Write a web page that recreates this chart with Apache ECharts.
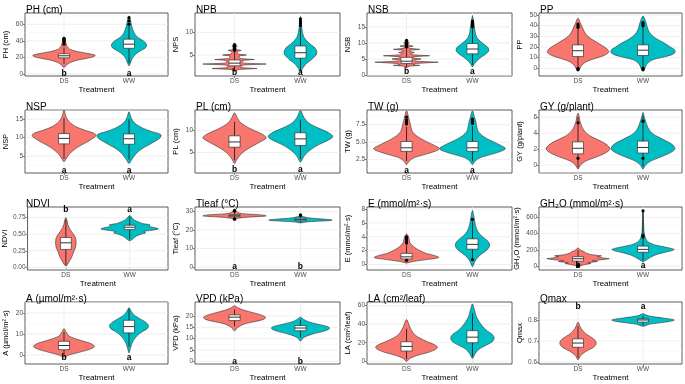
<!DOCTYPE html>
<html><head><meta charset="utf-8">
<script src="https://cdn.jsdelivr.net/npm/echarts@6/dist/echarts.min.js"></script>
<style>html,body{margin:0;padding:0;background:#fff}#c{width:685px;height:384px}</style>
</head><body><div id="c"></div>
<script>
const categories = ['DS', 'WW'];
const panelTitles = ['PH (cm)','NPB','NSB','PP','NSP','PL (cm)','TW (g)','GY (g/plant)','NDVI','Tleaf (°C)','E (mmol/m²·s)','GH₂O (mmol/m²·s)','A (µmol/m²·s)','VPD (kPa)','LA (cm²/leaf)','Qmax'];
const yTitles = ['PH (cm)','NPS','NSB','PP','NSP','PL (cm)','TW (g)','GY (g/plant)','NDVI','Tleaf (°C)','E (mmol/m²·s)','GH₂O (mmol/m²·s)','A (µmol/m²·s)','VPD (kPa)','LA (cm²/leaf)','Qmax'];
const yRanges = [[-2.4,73.6],[0.35,14.3],[-0.3,19.3],[-7.2,51.9],[0.4,17.5],[0.3,14.7],[0.6,9.6],[-1.0,6.9],[-0.04,0.91],[-1.6,32.4],[-0.8,8.3],[-49,727],[-4.3,25.2],[-1.2,26.2],[-3,64],[0.59,0.886]];
const yTicks = [[0,20,40,60],[5,10],[0,5,10,15],[0,10,20,30,40,50],[5,10,15],[5,10],[2.5,5,7.5],[0,2,4,6],[0,0.25,0.5,0.75],[0,10,20,30],[0,2,4,6,8],[0,200,400,600],[0,10,20],[0,5,10,15,20],[0,20,40,60],[0.6,0.7,0.8]];
const yTickLabels = [['0','20','40','60'],['5','10'],['0','5','10','15'],['0','10','20','30','40','50'],['5','10','15'],['5','10'],['2.5','5.0','7.5'],['0','2','4','6'],['0.00','0.25','0.50','0.75'],['0','10','20','30'],['0','2','4','6','8'],['0','200','400','600'],['0','10','20'],['0','5','10','15','20'],['0','20','40','60'],['0.6','0.7','0.8']];
const letters = [['b','a'],['b','a'],['b','a'],null,['a','a'],['b','a'],['a','a'],null,['b','a'],['a','b'],null,['b','a'],['b','a'],['a','b'],null,['b','a']];
const letterY = [0,1,1,null,1,1,1,null,0.87,0,null,0,-1.5,0,null,0.865];

// violin profiles: [y, half-width in category units]
const PH_DS = [[8,0],[11,0.04],[14,0.1],[17,0.22],[19,0.36],[21,0.46],[22.5,0.48],[24,0.42],[26,0.28],[28,0.16],[30,0.09],[33,0.05],[37,0.03],[41,0.02],[45,0]];
const PH_WW = [[10,0],[13,0.02],[17,0.04],[21,0.07],[25,0.12],[29,0.2],[32,0.26],[35,0.27],[38,0.25],[41,0.2],[44,0.14],[48,0.09],[53,0.06],[58,0.04],[64,0.025],[70,0]];
const NPB_DS = [[1.4,0],[1.8,0.06],[2,0.34],[2.2,0.1],[2.5,0.1],[2.8,0.14],[3,0.48],[3.2,0.14],[3.5,0.12],[3.8,0.12],[4,0.3],[4.2,0.09],[4.5,0.07],[4.8,0.07],[5,0.18],[5.2,0.05],[5.5,0.04],[5.8,0.04],[6,0.1],[6.2,0.03],[6.6,0.02],[7,0.04],[7.5,0]];
const NPB_WW = [[1.2,0],[2,0.03],[3,0.08],[4,0.17],[5,0.24],[5.8,0.25],[6.6,0.22],[7.4,0.15],[8.2,0.09],[9,0.05],[10,0.03],[11,0.02],[12,0.015],[13.5,0]];
const NSB_DS = [[2.3,0],[2.8,0.05],[3,0.2],[3.2,0.1],[3.6,0.14],[4,0.48],[4.3,0.14],[4.7,0.12],[5,0.22],[5.3,0.1],[5.7,0.1],[6,0.35],[6.3,0.08],[6.7,0.06],[7,0.12],[7.3,0.05],[7.7,0.05],[8,0.2],[8.3,0.04],[8.7,0.03],[9,0.1],[9.3,0.02],[10,0.04],[11,0]];
const NSB_WW = [[2.5,0],[3.5,0.03],[4.5,0.07],[5.5,0.13],[6.5,0.2],[7.5,0.25],[8.5,0.24],[9.5,0.18],[10.5,0.12],[11.5,0.07],[12.5,0.05],[13.5,0.04],[15,0.03],[16.5,0.02],[18.5,0]];
const PP_DS = [[-3,0],[0,0.03],[3,0.06],[6,0.12],[9,0.25],[12,0.4],[15,0.47],[18,0.45],[21,0.38],[24,0.3],[27,0.22],[30,0.15],[34,0.1],[38,0.07],[42,0.04],[47,0]];
const PP_WW = [[-3,0],[0,0.03],[4,0.06],[8,0.15],[11,0.35],[14,0.48],[17,0.49],[20,0.42],[24,0.32],[28,0.2],[32,0.12],[36,0.08],[40,0.06],[44,0.04],[49,0]];
const NSP_DS = [[3.5,0],[4.5,0.04],[5.5,0.08],[6.5,0.14],[7.5,0.22],[8.5,0.32],[9.5,0.42],[10.5,0.49],[11.2,0.46],[12,0.32],[13,0.18],[14,0.1],[15,0.05],[16,0.025],[17.5,0]];
const NSP_WW = [[3,0],[4,0.04],[5,0.08],[6,0.13],[7,0.2],[8,0.3],[9,0.4],[10,0.48],[10.8,0.49],[11.6,0.36],[12.5,0.22],[13.5,0.12],[14.5,0.06],[15.5,0.03],[17,0]];
const PL_DS = [[2.5,0],[3.5,0.04],[4.5,0.09],[5.5,0.17],[6.5,0.28],[7.5,0.4],[8.3,0.48],[9,0.44],[10,0.3],[11,0.17],[12,0.08],[13,0.04],[14,0]];
const PL_WW = [[2.8,0],[3.8,0.04],[4.8,0.09],[5.8,0.17],[6.8,0.28],[7.8,0.42],[8.6,0.49],[9.4,0.44],[10.4,0.3],[11.4,0.16],[12.4,0.08],[13.4,0.04],[14.6,0]];
const TW_DS = [[1.8,0],[2.3,0.04],[2.8,0.12],[3.3,0.3],[3.8,0.46],[4.1,0.5],[4.5,0.43],[5,0.32],[5.5,0.22],[6,0.14],[6.5,0.09],[7,0.07],[7.5,0.06],[8,0.045],[8.6,0.03],[9.5,0]];
const TW_WW = [[1.8,0],[2.3,0.04],[2.8,0.12],[3.3,0.3],[3.8,0.46],[4.1,0.5],[4.5,0.44],[5,0.33],[5.5,0.22],[6,0.14],[6.5,0.09],[7,0.07],[7.5,0.06],[8,0.05],[8.6,0.03],[9.5,0]];
const GY_DS = [[-0.5,0],[0,0.04],[0.5,0.12],[1,0.28],[1.5,0.42],[2,0.49],[2.5,0.45],[3,0.35],[3.5,0.22],[4,0.13],[4.5,0.08],[5,0.05],[5.5,0.03],[6,0.02],[6.5,0]];
const GY_WW = [[-0.5,0],[0,0.04],[0.5,0.12],[1,0.27],[1.5,0.41],[2,0.49],[2.5,0.46],[3,0.36],[3.5,0.24],[4,0.14],[4.5,0.09],[5,0.06],[5.5,0.04],[6,0.02],[6.6,0]];
const NDVI_DS = [[0.02,0],[0.05,0.03],[0.1,0.06],[0.15,0.09],[0.2,0.11],[0.25,0.13],[0.3,0.15],[0.35,0.16],[0.4,0.16],[0.45,0.15],[0.5,0.12],[0.55,0.08],[0.6,0.05],[0.65,0.03],[0.7,0.02],[0.75,0]];
const NDVI_WW = [[0.4,0],[0.43,0.05],[0.47,0.1],[0.5,0.18],[0.52,0.25],[0.54,0.22],[0.56,0.35],[0.58,0.45],[0.6,0.38],[0.62,0.3],[0.64,0.32],[0.66,0.2],[0.68,0.15],[0.7,0.1],[0.73,0.05],[0.78,0]];
const TLEAF_DS = [[25.8,0],[26.3,0.05],[26.8,0.15],[27.2,0.35],[27.6,0.48],[28,0.44],[28.4,0.3],[28.8,0.12],[29.3,0.06],[29.8,0.04],[30.4,0.02],[31,0]];
const TLEAF_WW = [[23.8,0],[24.3,0.08],[24.7,0.25],[25.1,0.46],[25.4,0.48],[25.8,0.38],[26.2,0.22],[26.6,0.12],[27.1,0.05],[27.6,0.02],[28.2,0]];
const E_DS = [[0.2,0],[0.4,0.08],[0.7,0.3],[1,0.49],[1.3,0.42],[1.6,0.3],[2,0.2],[2.4,0.13],[2.8,0.08],[3.2,0.05],[3.6,0.04],[4,0.03],[4.4,0]];
const E_WW = [[-0.3,0],[0.3,0.03],[0.8,0.06],[1.3,0.11],[1.8,0.18],[2.3,0.24],[2.8,0.26],[3.3,0.24],[3.8,0.18],[4.3,0.12],[4.8,0.08],[5.5,0.05],[6.2,0.035],[7,0.02],[7.8,0]];
const GH2O_DS = [[0,0],[20,0.12],[30,0.2],[40,0.15],[55,0.3],[65,0.22],[80,0.4],[90,0.48],[100,0.38],[115,0.3],[125,0.36],[140,0.2],[160,0.12],[175,0.1],[190,0.05],[210,0.02],[225,0]];
const GH2O_WW = [[50,0],[80,0.06],[110,0.12],[140,0.2],[170,0.34],[190,0.45],[205,0.48],[220,0.42],[240,0.3],[260,0.18],[290,0.09],[320,0.05],[360,0.03],[420,0.015],[500,0.01],[600,0.005],[690,0]];
const A_DS = [[-1,0],[0,0.08],[1,0.2],[2,0.32],[3,0.42],[4,0.47],[5,0.44],[6,0.36],[7,0.25],[8,0.15],[9,0.08],[10,0.05],[11,0.03],[12.5,0]];
const A_WW = [[1,0],[3,0.02],[5,0.04],[7,0.07],[9,0.12],[11,0.2],[12.5,0.28],[14,0.3],[15.5,0.26],[17,0.18],[18.5,0.1],[20,0.05],[21.5,0.02],[22.5,0]];
const VPD_DS = [[13.5,0],[15,0.05],[16.5,0.15],[17.5,0.3],[18.5,0.44],[19.5,0.47],[20.5,0.4],[21.5,0.28],[22.5,0.15],[23.5,0.06],[24.5,0]];
const VPD_WW = [[9,0],[10.5,0.05],[12,0.18],[13,0.32],[14,0.42],[14.8,0.44],[15.6,0.38],[16.5,0.25],[17.5,0.12],[18.5,0.05],[19.5,0]];
const LA_DS = [[0,0],[3,0.05],[6,0.15],[9,0.3],[12,0.42],[15,0.47],[18,0.42],[21,0.32],[25,0.2],[29,0.12],[33,0.08],[37,0.05],[41,0.03],[45,0]];
const LA_WW = [[3,0],[8,0.04],[13,0.1],[17,0.2],[21,0.3],[25,0.33],[29,0.3],[33,0.22],[38,0.15],[43,0.1],[48,0.06],[53,0.04],[58,0.02],[62,0]];
const QMAX_DS = [[0.61,0],[0.63,0.04],[0.65,0.12],[0.67,0.24],[0.69,0.28],[0.71,0.24],[0.73,0.14],[0.75,0.07],[0.77,0.03],[0.79,0]];
const QMAX_WW = [[0.77,0],[0.78,0.1],[0.79,0.35],[0.8,0.48],[0.81,0.3],[0.82,0.08],[0.83,0]];

// box stats: [lower whisker, q1, median, q3, upper whisker]
const boxDS = [[12,19.5,22,24.5,32],[1.5,2.6,3.2,3.9,5.8],[2.5,3.6,4.3,5.5,8.2],[1,11,16.5,22,38],[4.2,8.3,9.8,11.1,15.3],[3.2,6.2,7.4,8.8,12],[2.3,3.7,4.2,5.1,7.2],[-0.3,1.4,2.1,2.9,6],[0.03,0.27,0.37,0.45,0.72],[26.3,27.2,27.7,28.3,29.8],[0.35,0.8,1.1,1.6,2.9],[10,60,90,115,200],[0,2.5,4.5,6.5,11],[15.5,18,19.5,20.5,23],[2,11,16,21,35],[0.62,0.67,0.69,0.71,0.77]];
const boxWW = [[13,31,36,42,58],[1.5,4.3,5.5,7,11],[3.2,6.6,8.1,9.8,14.5],[1,12,17,22,39],[4,8.2,9.7,11,15],[3.5,6.6,8.1,9.5,12.5],[2.3,3.7,4.2,5.1,7.3],[-0.2,1.5,2.2,3.0,6.2],[0.42,0.57,0.605,0.635,0.76],[24.2,25.0,25.6,26.3,27.5],[0.5,2.2,2.9,3.7,6.2],[70,170,205,245,680],[4,10.5,13.5,16.5,22],[10.5,13.5,14.7,15.8,18.5],[5,20,26,33,52],[0.775,0.79,0.8,0.805,0.82]];
const outDS = [[36,38,40,41,42,43],[6,6.3,6.6,7,7.3],[8.7,9.2,9.7,10.3,10.8],[-1,0,38.5,40,41.5],[],[],[7.6,7.9,8.2,8.6],[5.3,0.85],[],[25.8,26.0,30.2,30.6],[3.1,3.4,3.7,4.0,0.6],[0,5],[],[],[],[]];
const outWW = [[60,64,68],[11.5,12,12.5,13],[15,15.6,16.2,16.8],[-1,0,40,41.5,43],[],[],[7.7,8.0,8.3],[5.5,0.85],[],[27.8,28.1],[6.5,0.7],[360,375,680],[],[],[],[]];

const violinSets = [[PH_DS,PH_WW],[NPB_DS,NPB_WW],[NSB_DS,NSB_WW],[PP_DS,PP_WW],[NSP_DS,NSP_WW],[PL_DS,PL_WW],[TW_DS,TW_WW],[GY_DS,GY_WW],[NDVI_DS,NDVI_WW],[TLEAF_DS,TLEAF_WW],[E_DS,E_WW],[GH2O_DS,GH2O_WW],[A_DS,A_WW],[VPD_DS,VPD_WW],[LA_DS,LA_WW],[QMAX_DS,QMAX_WW]];
const spiky = [false,true,true,false,false,false,false,false,false,false,false,true,false,false,false,false];

const colL = [25,195,367,539], colR = [168,340,512,682];
const rowT = [13,110,207,302], rowB = [76,173,270,364];
const FILL = ['#F8766D','#00BFC4'];
const FONT = '"Liberation Sans", Arial, sans-serif';

const grids = [], xAxes = [], yAxes = [], series = [], titles = [];
for (let i = 0; i < 16; i++) {
  const r = Math.floor(i / 4), c = i % 4;
  grids.push({left: colL[c], top: rowT[r], width: colR[c]-colL[c], height: rowB[r]-rowT[r], show: true, borderColor: '#333', borderWidth: 0.8, backgroundColor: '#fff', containLabel: false});
  titles.push({text: panelTitles[i], left: colL[c]-4, top: rowT[r]-13, textStyle: {fontSize: 10, fontWeight: 'normal', color: '#000', fontFamily: FONT}});
  xAxes.push({gridIndex: i, type: 'value', min: 0.4, max: 2.6,
    name: 'Treatment', nameLocation: 'middle', nameGap: 9,
    nameTextStyle: {fontSize: 8, color: '#000', fontFamily: FONT},
    axisLine: {show: false}, splitLine: {show: false},
    axisTick: {show: true, length: 2, customValues: [1,2], lineStyle: {color: '#333', width: 0.6}},
    axisLabel: {customValues: [1,2], formatter: v => categories[Math.round(v)-1], fontSize: 6.5, color: '#4D4D4D', margin: 2, fontFamily: FONT}});
  const ticks = yTicks[i], labs = yTickLabels[i];
  yAxes.push({gridIndex: i, type: 'value', min: yRanges[i][0], max: yRanges[i][1],
    name: yTitles[i], nameLocation: 'middle', nameRotate: 90, nameGap: i === 11 ? 18 : 15,
    nameTextStyle: {fontSize: 7.5, color: '#000', fontFamily: FONT},
    axisLine: {show: false}, splitLine: {show: false},
    axisTick: {show: true, length: 2, customValues: ticks, lineStyle: {color: '#333', width: 0.6}},
    axisLabel: {customValues: ticks, formatter: v => { let k = ticks.findIndex(t => Math.abs(t - v) < 1e-9); return k >= 0 ? labs[k] : ''; }, fontSize: 6.5, color: '#4D4D4D', margin: 2, fontFamily: FONT}});

  const step = ticks.length > 1 ? ticks[1] - ticks[0] : 1;
  const gl = [];
  ticks.forEach(t => gl.push([0, t]));
  for (let t = ticks[0] - step/2; t <= yRanges[i][1]; t += step) if (t >= yRanges[i][0]) gl.push([1, t]);
  gl.push([2, 1]); gl.push([2, 2]);
  series.push({type: 'custom', xAxisIndex: i, yAxisIndex: i, silent: true, data: gl, z: 1,
    renderItem: (params, api) => {
      const kind = api.value(0), v = api.value(1);
      let p1, p2;
      if (kind < 2) { p1 = api.coord([0.4, v]); p2 = api.coord([2.6, v]); }
      else { p1 = api.coord([v, yRanges[i][0]]); p2 = api.coord([v, yRanges[i][1]]); }
      return {type: 'line', shape: {x1: p1[0], y1: p1[1], x2: p2[0], y2: p2[1]},
        style: {stroke: kind === 1 ? '#F3F3F3' : '#EBEBEB', lineWidth: kind === 1 ? 0.5 : 0.8}};
    }});

  series.push({type: 'custom', xAxisIndex: i, yAxisIndex: i, silent: true, data: [[1, yRanges[i][0]], [2, yRanges[i][0]]], z: 2,
    renderItem: (params, api) => {
      const k = params.dataIndex, x = k + 1, prof = violinSets[i][k];
      const left = prof.map(p => api.coord([x - p[1], p[0]]));
      const right = prof.slice(1, -1).reverse().map(p => api.coord([x + p[1], p[0]]));
      return {type: 'polygon', shape: {points: left.concat(right), smooth: spiky[i] ? 0 : 0.35},
        style: {fill: FILL[k], stroke: '#333', lineWidth: 0.6}};
    }});

  series.push({type: 'custom', xAxisIndex: i, yAxisIndex: i, silent: true, data: [[1, yRanges[i][0]], [2, yRanges[i][0]]], z: 3,
    renderItem: (params, api) => {
      const k = params.dataIndex, x = k + 1;
      const b = k === 0 ? boxDS[i] : boxWW[i];
      const outs = k === 0 ? outDS[i] : outWW[i];
      const hw = 0.085;
      const wl = api.coord([x, b[0]]), wh = api.coord([x, b[4]]);
      const tl = api.coord([x - hw, b[3]]), br = api.coord([x + hw, b[1]]);
      const ml = api.coord([x - hw, b[2]]), mr = api.coord([x + hw, b[2]]);
      const children = [
        {type: 'line', shape: {x1: wl[0], y1: wl[1], x2: wh[0], y2: wh[1]}, style: {stroke: '#111', lineWidth: 0.8}},
        {type: 'rect', shape: {x: tl[0], y: tl[1], width: br[0]-tl[0], height: br[1]-tl[1]}, style: {fill: '#fff', stroke: '#333', lineWidth: 0.7}},
        {type: 'line', shape: {x1: ml[0], y1: ml[1], x2: mr[0], y2: mr[1]}, style: {stroke: '#333', lineWidth: 1}}
      ];
      outs.forEach(o => { const p = api.coord([x, o]); children.push({type: 'circle', shape: {cx: p[0], cy: p[1], r: 1.6}, style: {fill: '#000'}}); });
      if (letters[i]) {
        const p = api.coord([x, letterY[i]]);
        children.push({type: 'text', x: p[0], y: p[1], style: {text: letters[i][k], fontSize: 8.5, fontWeight: 'bold', fill: '#000', align: 'center', verticalAlign: 'middle', fontFamily: FONT}});
      }
      return {type: 'group', children};
    }});
}

const chart = echarts.init(document.getElementById('c'), null, {renderer: 'canvas'});
chart.setOption({animation: false, backgroundColor: '#fff', title: titles, grid: grids, xAxis: xAxes, yAxis: yAxes, series});
</script></body></html>
